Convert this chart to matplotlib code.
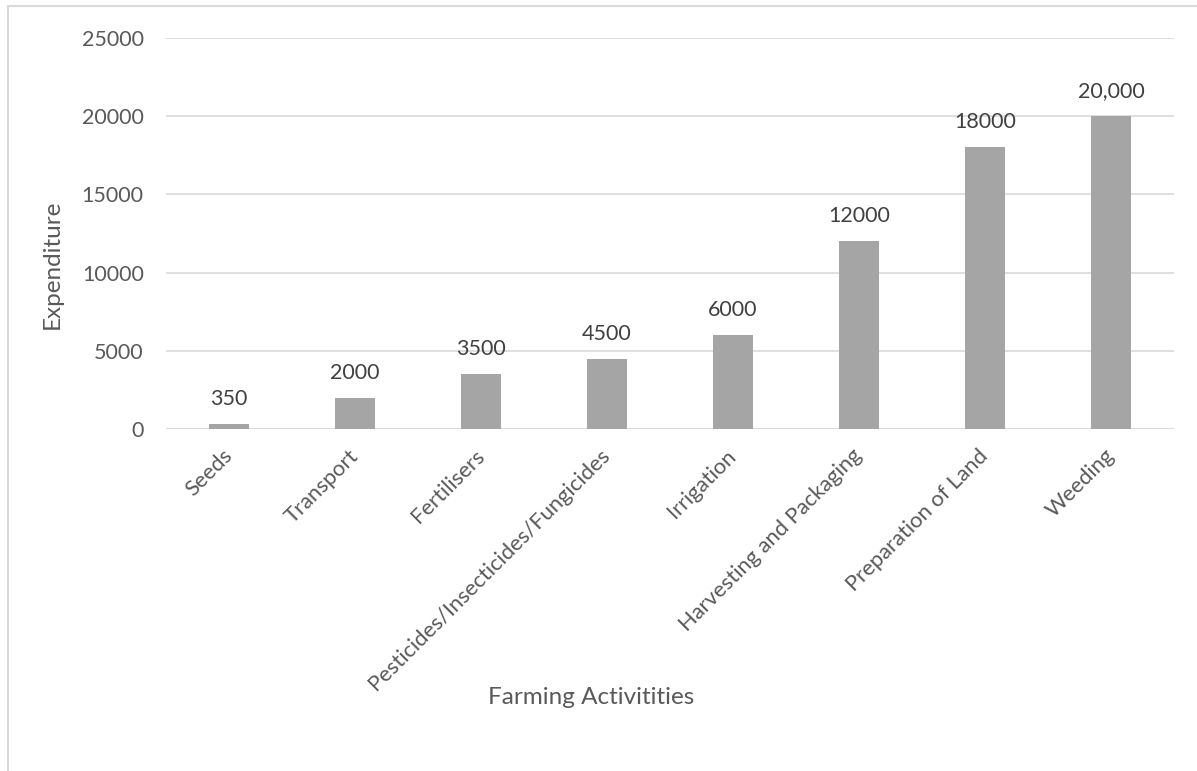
import matplotlib
matplotlib.use("Agg")
import matplotlib.pyplot as plt
from matplotlib.patches import Rectangle

categories = ["Seeds", "Transport", "Fertilisers", "Pesticides/Insecticides/Fungicides",
              "Irrigation", "Harvesting and Packaging", "Preparation of Land", "Weeding"]
values = [350, 2000, 3500, 4500, 6000, 12000, 18000, 20000]
value_labels = ["350", "2000", "3500", "4500", "6000", "12000", "18000", "20,000"]
yticks = [0, 5000, 10000, 15000, 20000, 25000]

plt.rcParams['font.family'] = ['Lato', 'DejaVu Sans']

fig = plt.figure(figsize=(11.97, 7.71), dpi=100)
ax = fig.add_axes([166/1197, 1-429/771, (1174-166)/1197, (429-38)/771])

x = list(range(len(categories)))
ax.bar(x, values, width=0.32, color="#A5A5A5", zorder=3)
for xi, v, lab in zip(x, values, value_labels):
    ax.annotate(lab, (xi, v), xytext=(0, 15), textcoords="offset pixels",
                ha="center", va="bottom", fontsize=15.5, color="#404040", zorder=4)

ax.set_xlim(-0.5, 7.5)
ax.set_ylim(0, 25000)
ax.set_yticks(yticks)
ax.set_yticklabels([str(t) for t in yticks], fontsize=15.5, color="#595959")
ax.set_xticks(x)
ax.set_xticklabels(categories, rotation=45, ha="right", va="center",
                   rotation_mode="anchor", fontsize=15.8, color="#595959")
ax.tick_params(axis="both", length=0)
ax.tick_params(axis="y", pad=16)
ax.tick_params(axis="x", pad=17)
ax.grid(axis="y", color="#D9D9D9", linewidth=1.2, zorder=0)
for s in ax.spines.values():
    s.set_visible(False)
ax.axhline(0, color="#D9D9D9", linewidth=1.2, zorder=2)

ax.set_ylabel("Expenditure", fontsize=17.5, color="#595959")
ax.yaxis.set_label_coords(-0.102, 0.42)
fig.text(591/1197, 1-698/771, "Farming Activitities", ha="center", va="center",
         fontsize=17.5, color="#595959")

fig.patches.append(Rectangle((8/1197, -0.1), 1.2, (1-6/771) + 0.1, transform=fig.transFigure,
                             fill=False, edgecolor="#D9D9D9", linewidth=1.5))

fig.savefig("out.png", dpi=100, facecolor="white")
